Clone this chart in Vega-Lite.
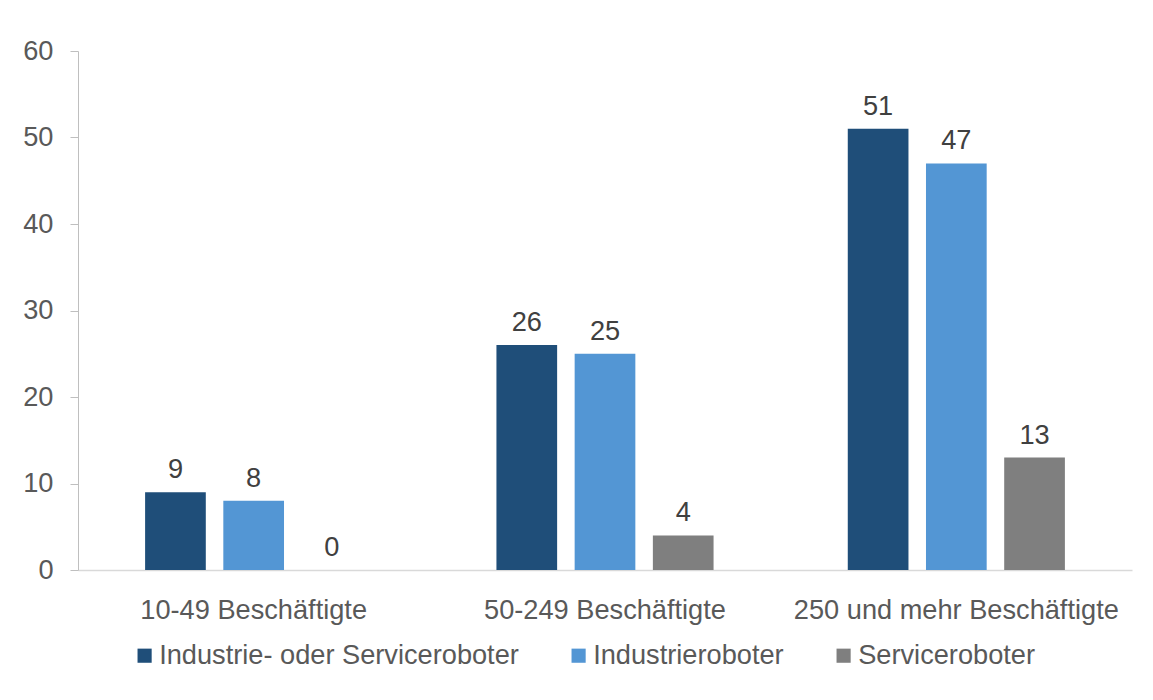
{
  "$schema": "https://vega.github.io/schema/vega-lite/v6.json",
  "width": 1054,
  "height": 519,
  "autosize": {"type": "none"},
  "padding": {"left": 78, "top": 51, "right": 21, "bottom": 130},
  "background": "white",
  "config": {
    "view": {"stroke": null},
    "font": "Liberation Sans"
  },
  "data": {
    "values": [
      {"gruppe": "10-49 Beschäftigte", "typ": "Industrie- oder Serviceroboter", "wert": 9},
      {"gruppe": "10-49 Beschäftigte", "typ": "Industrieroboter", "wert": 8},
      {"gruppe": "10-49 Beschäftigte", "typ": "Serviceroboter", "wert": 0},
      {"gruppe": "50-249 Beschäftigte", "typ": "Industrie- oder Serviceroboter", "wert": 26},
      {"gruppe": "50-249 Beschäftigte", "typ": "Industrieroboter", "wert": 25},
      {"gruppe": "50-249 Beschäftigte", "typ": "Serviceroboter", "wert": 4},
      {"gruppe": "250 und mehr Beschäftigte", "typ": "Industrie- oder Serviceroboter", "wert": 51},
      {"gruppe": "250 und mehr Beschäftigte", "typ": "Industrieroboter", "wert": 47},
      {"gruppe": "250 und mehr Beschäftigte", "typ": "Serviceroboter", "wert": 13}
    ]
  },
  "encoding": {
    "x": {
      "field": "gruppe",
      "type": "nominal",
      "sort": ["10-49 Beschäftigte", "50-249 Beschäftigte", "250 und mehr Beschäftigte"],
      "scale": {"paddingInner": 0.382, "paddingOuter": 0.191},
      "axis": {
        "title": null,
        "labelAngle": 0,
        "labelFontSize": 27.2,
        "labelColor": "#595959",
        "labelPadding": 27,
        "labelLimit": 0,
        "ticks": false,
        "domainColor": "#d9d9d9",
        "domainWidth": 1.3
      }
    },
    "xOffset": {
      "field": "typ",
      "type": "nominal",
      "sort": ["Industrie- oder Serviceroboter", "Industrieroboter", "Serviceroboter"],
      "scale": {"paddingInner": 0.224, "paddingOuter": 0}
    },
    "y": {
      "field": "wert",
      "type": "quantitative",
      "scale": {"domain": [0, 60], "nice": false},
      "axis": {
        "title": null,
        "values": [0, 10, 20, 30, 40, 50, 60],
        "grid": false,
        "labelFontSize": 27.2,
        "labelColor": "#595959",
        "labelPadding": 17,
        "tickSize": 8,
        "tickColor": "#bfbfbf",
        "domainColor": "#bfbfbf"
      }
    }
  },
  "layer": [
    {
      "mark": {"type": "bar"},
      "encoding": {
        "color": {
          "field": "typ",
          "type": "nominal",
          "scale": {
            "domain": ["Industrie- oder Serviceroboter", "Industrieroboter", "Serviceroboter"],
            "range": ["#1f4e79", "#5396d4", "#7f7f7f"]
          },
          "legend": {
            "title": null,
            "orient": "none",
            "direction": "horizontal",
            "legendX": 53,
            "legendY": 591,
            "symbolType": "square",
            "symbolSize": 200,
            "symbolStrokeWidth": 0,
            "symbolOpacity": 1,
            "labelFontSize": 27.2,
            "labelColor": "#595959",
            "labelOffset": 1,
            "labelLimit": 0,
            "columnPadding": 46
          }
        }
      }
    },
    {
      "mark": {"type": "text", "baseline": "alphabetic", "dy": -14, "fontSize": 27.2, "color": "#404040"},
      "encoding": {
        "text": {"field": "wert", "type": "quantitative"}
      }
    }
  ]
}
